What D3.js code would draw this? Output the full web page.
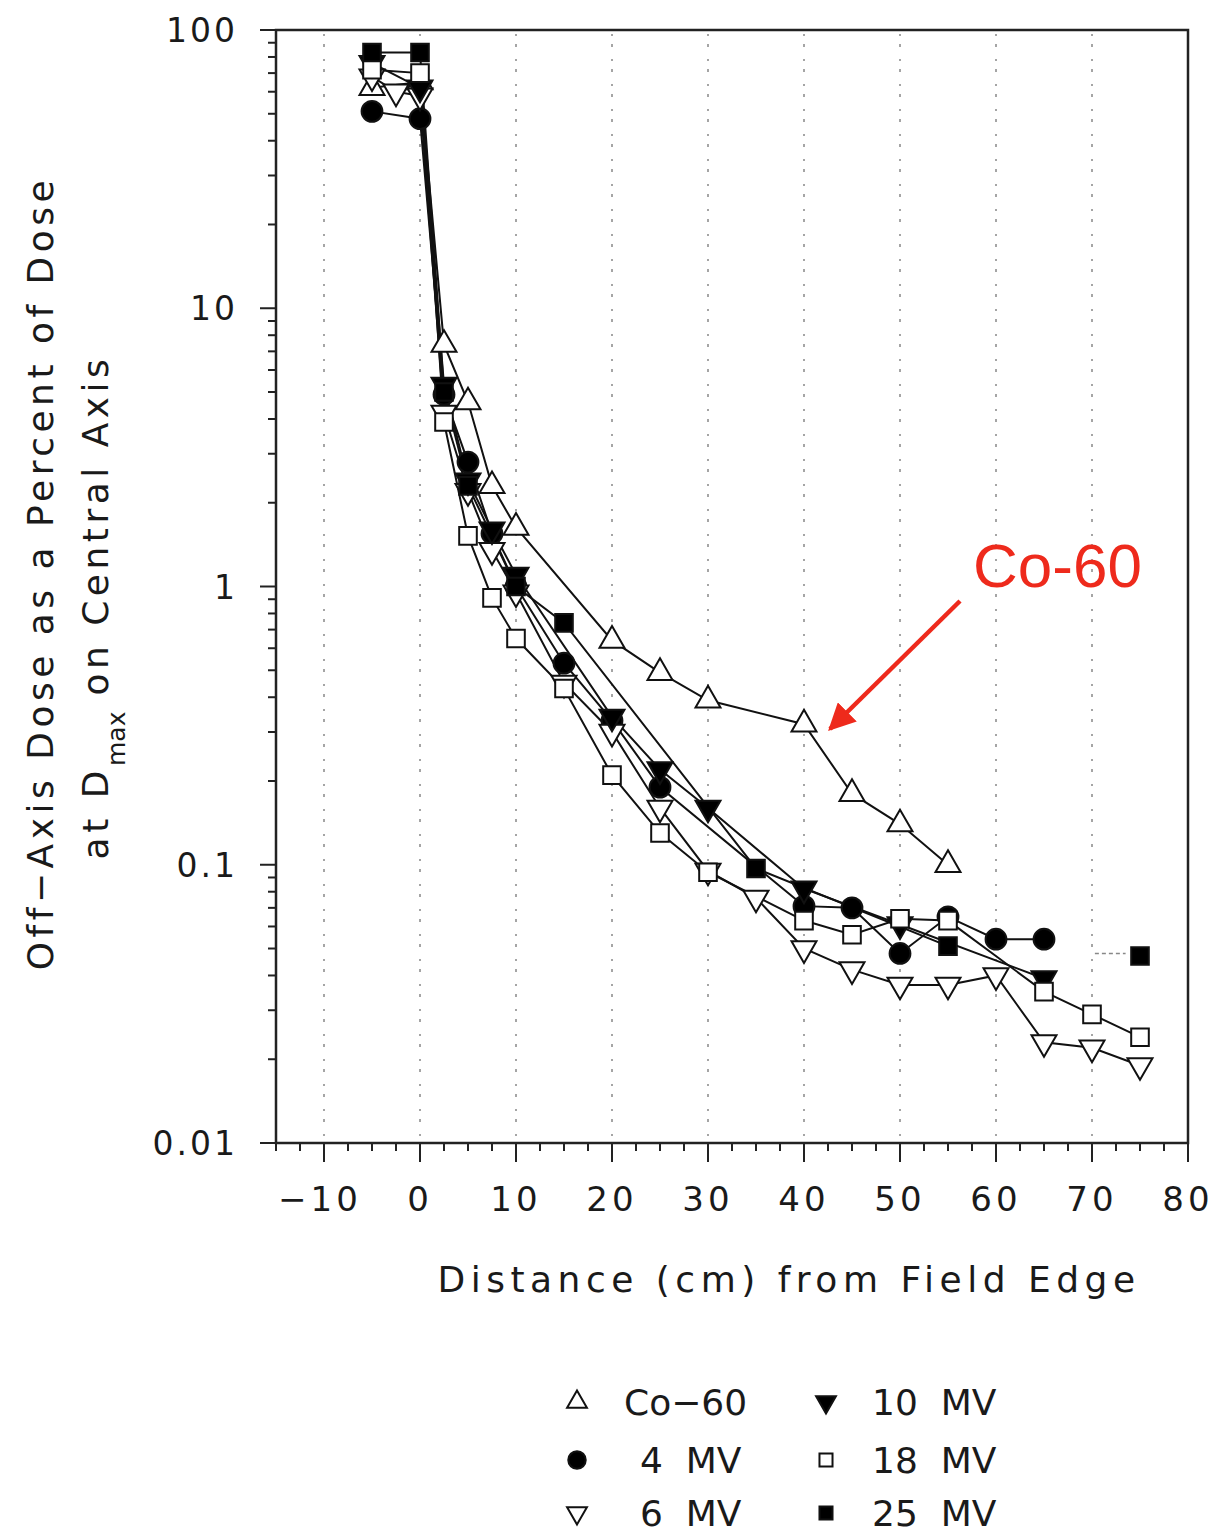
<!DOCTYPE html>
<html>
<head>
<meta charset="utf-8">
<script src="https://cdn.jsdelivr.net/npm/d3@7"></script>
<style>
  body { margin: 0; background: #fff; }
  text { font-family: "DejaVu Sans", sans-serif; fill: #1a1a1a; }
</style>
</head>
<body>
<script>

	// data (distance in cm, dose in %)
	var seriesNames = ["Co-60", "4 MV", "6 MV", "10 MV", "18 MV", "25 MV"];

	var coX  = [-5, 0, 2.5, 5, 7.5, 10, 20, 25, 30, 40, 45, 50, 55];
	var coY  = [62, 65, 7.4, 4.6, 2.3, 1.63, 0.64, 0.49, 0.39, 0.32, 0.18, 0.14, 0.10];

	var mv4X = [-5, 0, 2.5, 5, 7.5, 10, 15, 20, 25, 40, 45, 50, 55, 60, 65];
	var mv4Y = [51, 48, 4.9, 2.8, 1.55, 1.0, 0.53, 0.33, 0.19, 0.071, 0.07, 0.048, 0.065, 0.054, 0.054];

	var mv6X = [-5, -2.5, 0, 2.5, 5, 7.5, 10, 15, 20, 25, 30, 35, 40, 45, 50, 55, 60, 65, 70, 75];
	var mv6Y = [68, 60, 58, 4.2, 2.2, 1.35, 0.95, 0.45, 0.30, 0.16, 0.095, 0.076, 0.050, 0.042, 0.037, 0.037, 0.040, 0.023, 0.022, 0.019];

	var mv10X = [-5, 0, 2.5, 5, 7.5, 10, 20, 25, 30, 40, 50, 65];
	var mv10Y = [76, 62, 5.3, 2.4, 1.6, 1.1, 0.34, 0.22, 0.16, 0.082, 0.061, 0.039];

	var mv18X = [-5, 0, 2.5, 5, 7.5, 10, 15, 20, 25, 30, 40, 45, 50, 55, 65, 70, 75];
	var mv18Y = [72, 70, 3.9, 1.52, 0.91, 0.65, 0.43, 0.21, 0.13, 0.094, 0.063, 0.056, 0.064, 0.063, 0.035, 0.029, 0.024];

	// null = break in the line
	var mv25X = [-5, 0, 2.5, 5, 10, 15, 35, 55, 65, 75];
	var mv25Y = [83, 83, 5.0, 2.3, 1.0, 0.74, 0.097, 0.051, null, 0.047];

	var xTicks = [-10, 0, 10, 20, 30, 40, 50, 60, 70, 80];
	var yTicks = [0.01, 0.1, 1, 10, 100];
	var yTickLabels = ["0.01", "0.1", "1", "10", "100"];

	var width = 1217, height = 1535;

	var svg = d3.select("body")
	    .append("svg")
	    .attr("width", width)
	    .attr("height", height);

	var x = d3.scaleLinear().domain([-15, 80]).range([276, 1188]);
	var y = d3.scaleLog().domain([0.01, 100]).range([1143, 30]);

	// faint dotted verticals (scan look)
	svg.append("g").selectAll("line")
	    .data(xTicks.slice(0, -1))
	    .enter().append("line")
	    .attr("x1", d => x(d)).attr("x2", d => x(d))
	    .attr("y1", 34).attr("y2", 1138)
	    .attr("stroke", "#a5a5a5")
	    .attr("stroke-width", 2)
	    .attr("stroke-dasharray", "2,8,3,12");

	// frame
	svg.append("rect")
	    .attr("x", 276).attr("y", 30)
	    .attr("width", 912).attr("height", 1113)
	    .attr("fill", "none")
	    .attr("stroke", "#222")
	    .attr("stroke-width", 2.5);

	// left axis: major + minor log ticks, outward
	var minor = [];
	for (var e = -2; e < 2; e++) {
	    for (var k = 2; k <= 9; k++) minor.push(k * Math.pow(10, e));
	}
	svg.append("g").selectAll("line.mn")
	    .data(minor).enter().append("line")
	    .attr("x1", 268).attr("x2", 276)
	    .attr("y1", d => y(d)).attr("y2", d => y(d))
	    .attr("stroke", "#222").attr("stroke-width", 2);

	svg.append("g").selectAll("line.mj")
	    .data(yTicks).enter().append("line")
	    .attr("x1", 260).attr("x2", 276)
	    .attr("y1", d => y(d)).attr("y2", d => y(d))
	    .attr("stroke", "#222").attr("stroke-width", 2);

	svg.append("g").selectAll("text")
	    .data(yTicks).enter().append("text")
	    .attr("x", 238)
	    .attr("y", d => y(d) + 12)
	    .attr("text-anchor", "end")
	    .style("font-size", "33px")
	    .style("letter-spacing", "3px")
	    .text((d, i) => yTickLabels[i]);

	// bottom axis
	var xMinor = d3.range(-15, 80.1, 2.5);
	svg.append("g").selectAll("line")
	    .data(xMinor).enter().append("line")
	    .attr("x1", d => x(d)).attr("x2", d => x(d))
	    .attr("y1", 1143).attr("y2", 1151)
	    .attr("stroke", "#222").attr("stroke-width", 2);

	svg.append("g").selectAll("line")
	    .data(xTicks).enter().append("line")
	    .attr("x1", d => x(d)).attr("x2", d => x(d))
	    .attr("y1", 1143).attr("y2", 1162)
	    .attr("stroke", "#222").attr("stroke-width", 2);

	svg.append("g").selectAll("text")
	    .data(xTicks).enter().append("text")
	    .attr("x", d => x(d) + (d < 0 ? -4 : 0))
	    .attr("y", 1211)
	    .attr("text-anchor", "middle")
	    .style("font-size", "34px")
	    .style("letter-spacing", "4px")
	    .text(d => d < 0 ? "\u2212" + Math.abs(d) : d);

	// axis titles
	svg.append("text")
	    .attr("x", 789).attr("y", 1292)
	    .attr("text-anchor", "middle")
	    .style("font-size", "36px")
	    .style("letter-spacing", "5.5px")
	    .text("Distance (cm) from Field Edge");

	svg.append("text")
	    .attr("transform", "translate(53,573) rotate(-90)")
	    .attr("text-anchor", "middle")
	    .style("font-size", "36px")
	    .style("letter-spacing", "4.5px")
	    .text("Off\u2212Axis Dose as a Percent of Dose");

	var t2 = svg.append("text")
	    .attr("transform", "translate(108,607) rotate(-90)")
	    .attr("text-anchor", "middle")
	    .style("font-size", "36px")
	    .style("letter-spacing", "4.5px");
	t2.append("tspan").text("at D");
	t2.append("tspan").attr("dy", 17).style("font-size", "25px").style("letter-spacing", "0px").text("max");
	t2.append("tspan").attr("dy", -17).text(" on Central Axis");

	// series
	var series = [
	    {name: seriesNames[0], xs: coX,  ys: coY,  shape: d3.symbolTriangle, rot: 0,   fill: "#fff"},
	    {name: seriesNames[1], xs: mv4X, ys: mv4Y, shape: d3.symbolCircle,   rot: 0,   fill: "#000"},
	    {name: seriesNames[2], xs: mv6X, ys: mv6Y, shape: d3.symbolTriangle, rot: 180, fill: "#fff"},
	    {name: seriesNames[3], xs: mv10X, ys: mv10Y, shape: d3.symbolTriangle, rot: 180, fill: "#000"},
	    {name: seriesNames[4], xs: mv18X, ys: mv18Y, shape: d3.symbolSquare, rot: 0,   fill: "#fff"},
	    {name: seriesNames[5], xs: mv25X, ys: mv25Y, shape: d3.symbolSquare, rot: 0,   fill: "#000"}
	];

	var line = d3.line()
	    .defined(d => d[1] != null)
	    .x(d => x(d[0]))
	    .y(d => y(d[1]));

	function symSize(s) {
	    if (s.shape === d3.symbolCircle) return 340;
	    if (s.shape === d3.symbolSquare) return 310;
	    return 270;
	}

	series.forEach(function(s) {
	    var pts = s.xs.map((v, i) => [v, s.ys[i]]);
	    svg.append("path")
	        .datum(pts)
	        .attr("fill", "none")
	        .attr("stroke", "#111")
	        .attr("stroke-width", 2)
	        .attr("d", line);
	});

	series.forEach(function(s) {
	    var pts = s.xs.map((v, i) => [v, s.ys[i]]).filter(d => d[1] != null);
	    svg.append("g").selectAll("path")
	        .data(pts).enter().append("path")
	        .attr("d", d3.symbol().type(s.shape).size(symSize(s)))
	        .attr("transform", d => "translate(" + x(d[0]) + "," + y(d[1]) + ") rotate(" + s.rot + ")")
	        .attr("fill", s.fill)
	        .attr("stroke", "#111")
	        .attr("stroke-width", 2);
	});

	// little dashed stub next to the isolated 25 MV point
	svg.append("line")
	    .attr("x1", x(70.3)).attr("x2", x(73.5))
	    .attr("y1", y(0.048)).attr("y2", y(0.048))
	    .attr("stroke", "#888").attr("stroke-width", 1.5)
	    .attr("stroke-dasharray", "4,3");

	// red annotation
	svg.append("defs").append("marker")
	    .attr("id", "arr")
	    .attr("viewBox", "0 0 10 10")
	    .attr("refX", 9).attr("refY", 5)
	    .attr("markerWidth", 6).attr("markerHeight", 6)
	    .attr("orient", "auto")
	    .append("path")
	    .attr("d", "M0,0 L10,5 L0,10 z")
	    .attr("fill", "#ee2a1c");

	svg.append("line")
	    .attr("x1", 960).attr("y1", 601)
	    .attr("x2", 830).attr("y2", 729)
	    .attr("stroke", "#ee2a1c")
	    .attr("stroke-width", 4.5)
	    .attr("marker-end", "url(#arr)");

	svg.append("text")
	    .attr("x", 973).attr("y", 587)
	    .style("font-family", "'Liberation Sans', Arial, sans-serif")
	    .style("font-size", "62px")
	    .style("fill", "#ee2a1c")
	    .text("Co-60");

	// legend
	var legendRows = [
	    {s: series[0], col: 0, row: 0, label: "Co\u221260", lx: 624},
	    {s: series[1], col: 0, row: 1, label: "4  MV", lx: 640},
	    {s: series[2], col: 0, row: 2, label: "6  MV", lx: 640},
	    {s: series[3], col: 1, row: 0, label: "10  MV", lx: 872},
	    {s: series[4], col: 1, row: 1, label: "18  MV", lx: 872},
	    {s: series[5], col: 1, row: 2, label: "25  MV", lx: 872}
	];
	var rowY = [1402, 1460, 1513];
	var symX = [577, 826];

	var leg = svg.append("g");
	legendRows.forEach(function(r) {
	    var sz = r.s.shape === d3.symbolCircle ? 240 : (r.s.shape === d3.symbolSquare ? 170 : 170);
	    leg.append("path")
	        .attr("d", d3.symbol().type(r.s.shape).size(sz))
	        .attr("transform", "translate(" + symX[r.col] + "," + rowY[r.row] + ") rotate(" + r.s.rot + ")")
	        .attr("fill", r.s.fill)
	        .attr("stroke", "#111")
	        .attr("stroke-width", 2);
	    leg.append("text")
	        .attr("x", r.lx)
	        .attr("y", rowY[r.row] + 13)
	        .style("font-size", "36px")
	        .style("white-space", "pre")
	        .attr("xml:space", "preserve")
	        .text(r.label);
	});

</script>
</body>
</html>
